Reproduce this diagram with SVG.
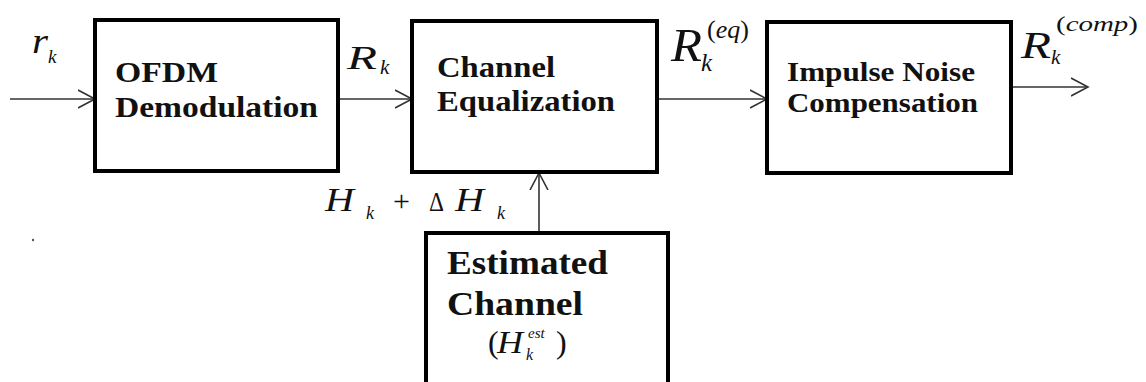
<svg xmlns="http://www.w3.org/2000/svg" width="1146" height="382" viewBox="0 0 1146 382">
<style>
.box{fill:#fff;stroke:#000;stroke-width:4}
.ln{fill:none;stroke:#333;stroke-width:1.6}
.bt{font-family:'Liberation Serif','Times New Roman','DejaVu Serif',serif;font-weight:bold;fill:#111}
.m{font-family:'Liberation Serif','Times New Roman','DejaVu Serif',serif;font-style:italic;fill:#111}
.r{font-family:'Liberation Serif','Times New Roman','DejaVu Serif',serif;fill:#111}
</style>
<defs>
<marker id="ah" viewBox="0 0 20 20" refX="17" refY="10" markerWidth="20" markerHeight="20" markerUnits="userSpaceOnUse" orient="auto">
<path d="M0,1 L17,10 L0,19" fill="none" stroke="#333" stroke-width="1.6"/>
</marker>
</defs>
<rect width="1146" height="382" fill="#fff"/>
<g id="connectors">
<line class="ln" x1="10" y1="99" x2="95" y2="99" marker-end="url(#ah)"/>
<line class="ln" x1="338" y1="99" x2="412" y2="99" marker-end="url(#ah)"/>
<line class="ln" x1="657" y1="99" x2="767" y2="99" marker-end="url(#ah)"/>
<line class="ln" x1="1011" y1="87" x2="1088" y2="87" marker-end="url(#ah)"/>
<line class="ln" x1="539" y1="233" x2="539" y2="173" marker-end="url(#ah)"/>
</g>
<g id="labels">
<text class="m" x="32" y="53" font-size="36" textLength="16" lengthAdjust="spacingAndGlyphs">r</text>
<text class="m" x="48" y="63" font-size="19">k</text>
<text class="m" x="347" y="69" font-size="34" textLength="30" lengthAdjust="spacingAndGlyphs">R</text>
<text class="m" x="380" y="74" font-size="21">k</text>
<text class="m" x="671" y="61" font-size="47" textLength="31" lengthAdjust="spacingAndGlyphs">R</text>
<text class="r" x="707" y="38" font-size="26">(<tspan class="m">eq</tspan>)</text>
<text class="m" x="701" y="71" font-size="25">k</text>
<text class="m" x="1021" y="58" font-size="38" textLength="30" lengthAdjust="spacingAndGlyphs">R</text>
<text class="r" x="1056" y="31" font-size="20" textLength="82" lengthAdjust="spacingAndGlyphs">(<tspan class="m">comp</tspan>)</text>
<text class="m" x="1051" y="64" font-size="21">k</text>
<text class="m" x="325" y="211" font-size="33" textLength="29" lengthAdjust="spacingAndGlyphs">H</text>
<text class="m" x="366" y="219" font-size="18">k</text>
<text class="r" x="393" y="211" font-size="30">+</text>
<text class="r" x="429" y="211" font-size="28" textLength="15" lengthAdjust="spacingAndGlyphs">Δ</text>
<text class="m" x="455" y="211" font-size="33" textLength="29" lengthAdjust="spacingAndGlyphs">H</text>
<text class="m" x="497" y="219" font-size="18">k</text>
<circle cx="33" cy="240" r="1.2" fill="#555"/>
</g>
<g id="ofdm">
<rect class="box" x="95" y="20" width="243" height="151"/>
<text class="bt" x="115" y="82" font-size="29" textLength="103" lengthAdjust="spacingAndGlyphs">OFDM</text>
<text class="bt" x="115" y="117" font-size="29" textLength="203" lengthAdjust="spacingAndGlyphs">Demodulation</text>
</g>
<g id="equalization">
<rect class="box" x="412" y="21" width="245" height="151"/>
<text class="bt" x="437" y="77" font-size="29" textLength="118" lengthAdjust="spacingAndGlyphs">Channel</text>
<text class="bt" x="437" y="111" font-size="29" textLength="178" lengthAdjust="spacingAndGlyphs">Equalization</text>
</g>
<g id="compensation">
<rect class="box" x="767" y="22" width="244" height="151"/>
<text class="bt" x="787" y="81" font-size="28" textLength="188" lengthAdjust="spacingAndGlyphs">Impulse Noise</text>
<text class="bt" x="787" y="112" font-size="28" textLength="191" lengthAdjust="spacingAndGlyphs">Compensation</text>
</g>
<g id="estimated">
<rect class="box" x="426" y="233" width="242" height="160"/>
<text class="bt" x="447" y="274" font-size="33" textLength="161" lengthAdjust="spacingAndGlyphs">Estimated</text>
<text class="bt" x="447" y="315" font-size="33" textLength="136" lengthAdjust="spacingAndGlyphs">Channel</text>
<text class="r" x="488" y="353" font-size="32">(</text>
<text class="m" x="497" y="353" font-size="32" textLength="26" lengthAdjust="spacingAndGlyphs">H</text>
<text class="m" x="528" y="338" font-size="15">est</text>
<text class="m" x="526" y="360" font-size="16">k</text>
<text class="r" x="556" y="353" font-size="32">)</text>
</g>
</svg>
